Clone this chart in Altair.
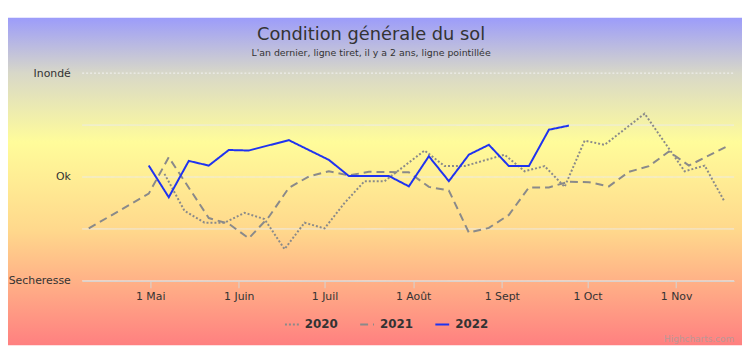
import json
import altair as alt
import pandas as pd

# ---------------- data ----------------
years = ["2020", "2021", "2022"]

dates_2020 = ["2022-05-06T00:00:00", "2022-05-13T00:00:00", "2022-05-20T00:00:00", "2022-05-27T00:00:00",
              "2022-06-03T00:00:00", "2022-06-10T00:00:00", "2022-06-17T00:00:00", "2022-06-24T00:00:00",
              "2022-07-01T00:00:00", "2022-07-08T00:00:00", "2022-07-15T00:00:00", "2022-07-22T00:00:00",
              "2022-08-05T00:00:00", "2022-08-12T00:00:00", "2022-08-19T00:00:00", "2022-09-02T00:00:00",
              "2022-09-09T00:00:00", "2022-09-16T00:00:00", "2022-09-23T00:00:00", "2022-09-30T00:00:00",
              "2022-10-07T00:00:00", "2022-10-21T00:00:00", "2022-11-04T00:00:00", "2022-11-11T00:00:00",
              "2022-11-18T00:00:00"]
values_2020 = [0.06, -0.65, -0.88, -0.88, -0.69, -0.81, -1.39, -0.88, -0.99, -0.50, -0.08, -0.08,
               0.51, 0.21, 0.21, 0.43, 0.11, 0.21, -0.19, 0.70, 0.62, 1.22, 0.11, 0.22, -0.48]

dates_2021 = ["2022-04-09T12:00:00", "2022-04-30T12:00:00", "2022-05-07T12:00:00", "2022-05-21T12:00:00",
              "2022-05-28T12:00:00", "2022-06-04T12:00:00", "2022-06-11T12:00:00", "2022-06-18T12:00:00",
              "2022-06-25T12:00:00", "2022-07-02T12:00:00", "2022-07-09T12:00:00", "2022-07-16T12:00:00",
              "2022-07-30T12:00:00", "2022-08-06T12:00:00", "2022-08-13T12:00:00", "2022-08-20T12:00:00",
              "2022-08-27T12:00:00", "2022-09-03T12:00:00", "2022-09-10T12:00:00", "2022-09-17T12:00:00",
              "2022-09-24T12:00:00", "2022-10-01T12:00:00", "2022-10-08T12:00:00", "2022-10-15T12:00:00",
              "2022-10-22T12:00:00", "2022-10-29T12:00:00", "2022-11-05T12:00:00", "2022-11-19T12:00:00"]
values_2021 = [-0.99, -0.32, 0.38, -0.79, -0.90, -1.18, -0.77, -0.21, 0.01, 0.11, 0.03, 0.10,
               0.09, -0.19, -0.26, -1.07, -0.98, -0.73, -0.20, -0.20, -0.09, -0.10, -0.18, 0.10,
               0.21, 0.49, 0.22, 0.61]

dates_2022 = ["2022-04-30T12:00:00", "2022-05-07T12:00:00", "2022-05-14T12:00:00", "2022-05-21T12:00:00",
              "2022-05-28T12:00:00", "2022-06-04T12:00:00", "2022-06-18T12:00:00", "2022-07-02T12:00:00",
              "2022-07-09T12:00:00", "2022-07-23T12:00:00", "2022-07-30T12:00:00", "2022-08-06T12:00:00",
              "2022-08-13T12:00:00", "2022-08-20T12:00:00", "2022-08-27T12:00:00", "2022-09-03T12:00:00",
              "2022-09-10T12:00:00", "2022-09-17T12:00:00", "2022-09-24T12:00:00"]
values_2022 = [0.22, -0.39, 0.31, 0.22, 0.52, 0.51, 0.71, 0.33, 0.02, 0.02, -0.18, 0.40,
               -0.08, 0.43, 0.62, 0.21, 0.21, 0.91, 0.99]

y_tick_values = [-2, -1, 0, 1, 2]
y_tick_labels = ["Secheresse", "", "Ok", "", "Inondé"]
month_names = ["Janv", "Févr", "Mars", "Avr", "Mai", "Juin", "Juil", "Août", "Sept", "Oct", "Nov", "Déc"]
x_tick_months = [5, 6, 7, 8, 9, 10, 11]

title_text = "Condition générale du sol"
subtitle_text = "L'an dernier, ligne tiret, il y a 2 ans, ligne pointillée"
credit_text = "Highcharts.com"

# ---------------- styles ----------------
series_colors = ["#8a8a8a", "#8a8a8a", "#1f33f0"]
series_dashes = [[2, 2], [8, 5], [1, 0]]
FONT = "DejaVu Sans"
W, H = 659, 210

rows = []
for yr, ds, vs in zip(years, [dates_2020, dates_2021, dates_2022], [values_2020, values_2021, values_2022]):
    for d, v in zip(ds, vs):
        rows.append({"year": yr, "date": d, "value": v})
df = pd.DataFrame(rows)

label_expr_y = "''"
for v, lab in zip(y_tick_values, y_tick_labels):
    label_expr_y = f"datum.value == {v} ? '{lab}' : ({label_expr_y})"
label_expr_x = "'1 ' + " + json.dumps(month_names, ensure_ascii=False) + "[month(datum.value)]"

y_scale = alt.Scale(domain=[-2, 2], nice=False, zero=False)
y_axis = alt.Axis(values=y_tick_values, labelExpr=label_expr_y, grid=False,
                  domain=False, ticks=False, labelPadding=12, labelFont=FONT,
                  labelFontSize=11, labelColor="#333333", zindex=1)

bg = alt.Chart(pd.DataFrame({"a": [0]})).mark_rect(
    color=alt.Gradient(
        gradient="linear",
        stops=[alt.GradientStop(color="#9c9cfa", offset=0),
               alt.GradientStop(color="#d8d8c8", offset=0.17),
               alt.GradientStop(color="#fffc9a", offset=0.38),
               alt.GradientStop(color="#ffd88c", offset=0.65),
               alt.GradientStop(color="#ff8080", offset=1)],
        x1=0, x2=0, y1=0, y2=1),
).encode(x=alt.value(-75), x2=alt.value(667), y=alt.value(-56), y2=alt.value(275))

grid = alt.Chart(pd.DataFrame({"value": y_tick_values})).mark_rule(strokeWidth=1).encode(
    y=alt.Y("value:Q", title=None, scale=y_scale, axis=y_axis),
    x=alt.value(0), x2=alt.value(W),
    color=alt.condition(alt.datum.value == 2, alt.value("#f4f4f4"), alt.value("#ececec")),
    strokeDash=alt.condition(alt.datum.value == 2, alt.value([2, 2]), alt.value([1, 0])),
)

leg = alt.Legend(title=None, orient="none", legendX=204, legendY=246, direction="horizontal",
                 symbolType="stroke", symbolSize=196, symbolStrokeWidth=2,
                 labelFont=FONT, labelFontWeight="bold", labelFontSize=12, labelColor="#333333",
                 labelOffset=5, columnPadding=18, padding=0)

lines = alt.Chart(df).mark_line(strokeWidth=2).encode(
    x=alt.X("date:T", title=None,
            scale=alt.Scale(domain=[alt.DateTime(year=2022, month=4, date=7, hours=5),
                                    alt.DateTime(year=2022, month=11, date=21, hours=7)]),
            axis=alt.Axis(values=[alt.DateTime(year=2022, month=m, date=1) for m in x_tick_months],
                          labelExpr=label_expr_x, grid=False, domainColor="#d4d4d4", tickColor="#d4d4d4",
                          tickSize=7, labelPadding=3, labelFont=FONT, labelFontSize=11,
                          labelColor="#333333", labelFlush=False, zindex=1)),
    y=alt.Y("value:Q", title=None, scale=y_scale, axis=y_axis),
    color=alt.Color("year:N", scale=alt.Scale(domain=years, range=series_colors), legend=leg),
    strokeDash=alt.StrokeDash("year:N", scale=alt.Scale(domain=years, range=series_dashes), legend=leg),
)

texts = pd.DataFrame({"t": [title_text, subtitle_text], "kind": ["title", "subtitle"]})
title_mark = alt.Chart(texts).transform_filter(alt.datum.kind == "title").mark_text(
    align="center", baseline="alphabetic", fontSize=18, font=FONT, color="#333333"
).encode(x=alt.value(292), y=alt.value(-33), text="t:N")
subtitle_mark = alt.Chart(texts).transform_filter(alt.datum.kind == "subtitle").mark_text(
    align="center", baseline="alphabetic", fontSize=9.5, font=FONT, color="#333333"
).encode(x=alt.value(292), y=alt.value(-17), text="t:N")

credit = alt.Chart(pd.DataFrame({"t": [credit_text]})).mark_text(
    align="right", baseline="middle", fontSize=9, font=FONT, color="#a0a0a0", opacity=0.7
).encode(x=alt.value(659), y=alt.value(269), text="t:N")

chart = alt.layer(bg, grid, lines, title_mark, subtitle_mark, credit).properties(
    width=W, height=H,
    padding={"left": 75, "top": 64, "right": 8, "bottom": 65},
    autosize=alt.AutoSizeParams(type="none"),
).configure(background="white", font=FONT).configure_view(strokeWidth=0)

chart.save("out.html", embed_options={"renderer": "svg", "actions": False})
